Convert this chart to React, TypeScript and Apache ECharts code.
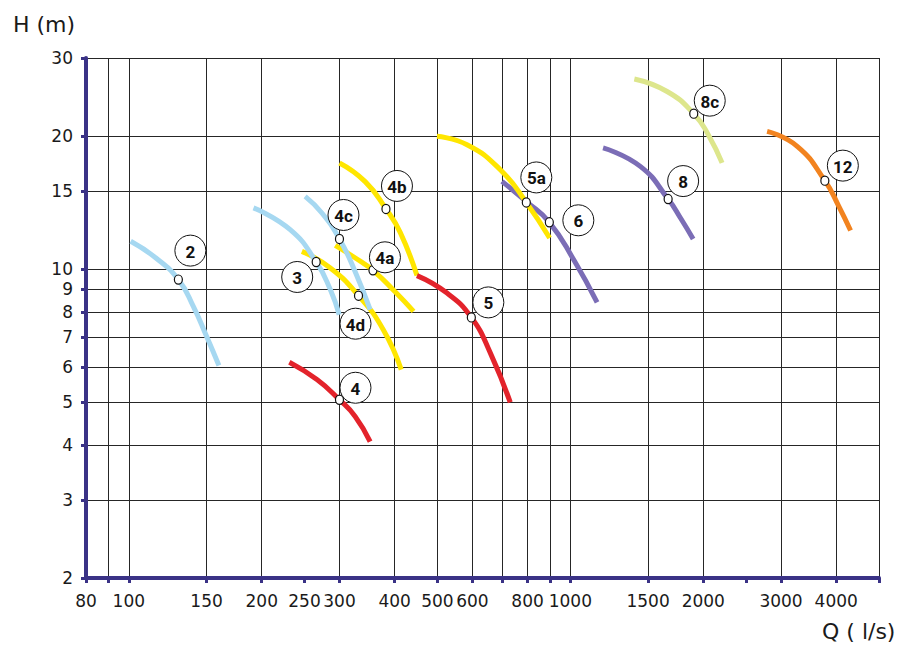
import React, { useEffect, useRef } from 'react';
import * as echarts from 'echarts';

// ---- axis values ----
const xTickValues = [80, 90, 100, 150, 200, 250, 300, 400, 500, 600, 700, 800, 900, 1000, 1500, 2000, 2500, 3000, 4000, 5000];
const xLabelValues = [80, 100, 150, 200, 250, 300, 400, 500, 600, 800, 1000, 1500, 2000, 3000, 4000];
const xGridValues = [90, 100, 150, 200, 300, 400, 500, 600, 700, 800, 900, 1000, 1500, 2000, 3000, 4000, 5000];
const yTickValues = [2, 3, 4, 5, 6, 7, 8, 9, 10, 15, 20, 30];

// ---- pump curves [Q (l/s), H (m)] ----
const curve2 = [[101, 11.55], [115, 10.6], [129.5, 9.46], [140, 8.23], [150, 7.04], [160, 6.05]];
const curve3 = [[191.6, 13.74], [232, 12.27], [265.7, 10.37], [286, 8.98], [299.6, 7.88]];
const curve4c = [[250.8, 14.59], [273.7, 13.38], [300, 11.69], [325.6, 9.86], [352, 8.09]];
const curve4d = [[246.6, 10.96], [286, 10.05], [331.3, 8.7], [377, 7.29], [414, 5.92]];
const curve4a = [[293.4, 11.31], [324, 10.63], [357.2, 9.93], [401, 8.88], [441.5, 8.02]];
const curve4b = [[300, 17.37], [343, 15.76], [382.3, 13.67], [412, 12.08], [449.4, 9.66]];
const curve4 = [[231, 6.15], [266.7, 5.62], [300, 5.06], [325.6, 4.64], [352, 4.07]];
const curve5 = [[449.4, 9.66], [525.6, 8.82], [596.7, 7.77], [658.7, 6.46], [731, 4.99]];
const curve5a = [[498.8, 19.95], [583.4, 19.1], [694, 16.77], [794.8, 14.14], [897.6, 11.75]];
const curve6 = [[700, 15.78], [795, 14.2], [896.2, 12.75], [1017, 10.5], [1149.5, 8.4]];
const curve8 = [[1186, 18.78], [1440, 17.06], [1665, 14.39], [1776, 13.04], [1897, 11.69]];
const curve8c = [[1396, 26.9], [1656, 25.2], [1903, 22.45], [2054, 20.1], [2206, 17.37]];
const curve12 = [[2790, 20.48], [3264, 18.94], [3770, 15.84], [4055, 13.86], [4311, 12.22]];

// ---- duty points ----
const dutyNames = ['2', '3', '4c', '4d', '4a', '4b', '4', '5', '5a', '6', '8', '8c', '12'];
const dutyQ = [129.5, 265.7, 300, 331.3, 357.2, 382.3, 300, 596.7, 794.8, 896.2, 1665, 1903, 3770];
const dutyH = [9.46, 10.37, 11.69, 8.7, 9.93, 13.67, 5.06, 7.77, 14.14, 12.75, 14.39, 22.45, 15.84];

// ---- styles / layout ----
const C = {
  blue: '#a6d8f1',
  yellow: '#ffe600',
  red: '#e3232b',
  purple: '#7b6db6',
  green: '#dde68c',
  orange: '#f2831f',
  navy: '#3a3286',
  grid: '#262626',
  text: '#1a1a1a',
};

const bubbleOffsets: Record<string, [number, number]> = {
  '2': [12, -29],
  '3': [-19, 15],
  '4c': [4, -24],
  '4d': [-3, 28],
  '4a': [12, -13],
  '4b': [11, -23],
  '4': [16, -12],
  '5': [17, -15],
  '5a': [10, -25],
  '6': [29, -2],
  '8': [15, -18],
  '8c': [16, -13],
  '12': [18, -15],
};

const curves: { name: string; data: number[][]; color: string }[] = [
  { name: '4d', data: curve4d, color: C.yellow },
  { name: '4a', data: curve4a, color: C.yellow },
  { name: '4b', data: curve4b, color: C.yellow },
  { name: '2', data: curve2, color: C.blue },
  { name: '3', data: curve3, color: C.blue },
  { name: '4c', data: curve4c, color: C.blue },
  { name: '4', data: curve4, color: C.red },
  { name: '5', data: curve5, color: C.red },
  { name: '6', data: curve6, color: C.purple },
  { name: '8', data: curve8, color: C.purple },
  { name: '5a', data: curve5a, color: C.yellow },
  { name: '8c', data: curve8c, color: C.green },
  { name: '12', data: curve12, color: C.orange },
];

const FONT = '"DejaVu Sans", sans-serif';

export default function App() {
  const ref = useRef<HTMLDivElement>(null);

  useEffect(() => {
    if (!ref.current) return;
    const chart = echarts.init(ref.current, undefined, { renderer: 'svg' });

    const lineSeries = curves.map((c) => ({
      type: 'line',
      name: c.name,
      xAxisIndex: 1,
      yAxisIndex: 0,
      data: c.data,
      smooth: 0.5,
      showSymbol: false,
      symbol: 'none',
      lineStyle: { color: c.color, width: 5, cap: 'butt' },
      itemStyle: { color: c.color },
      z: 3,
      silent: true,
    }));

    const dutySeries = {
      type: 'custom',
      name: 'duty',
      coordinateSystem: 'cartesian2d',
      xAxisIndex: 1,
      yAxisIndex: 0,
      z: 10,
      silent: true,
      data: dutyQ.map((q, i) => [q, dutyH[i]]),
      encode: { x: 0, y: 1 },
      renderItem: (params: any, api: any) => {
        const pt = api.coord([api.value(0), api.value(1)]);
        const name = dutyNames[params.dataIndex];
        const off = bubbleOffsets[name];
        const bx = pt[0] + off[0];
        const by = pt[1] + off[1];
        return {
          type: 'group',
          children: [
            {
              type: 'ellipse',
              shape: { cx: pt[0], cy: pt[1], rx: 4, ry: 4.6 },
              style: { fill: '#ffffff', stroke: '#111', lineWidth: 1.2 },
            },
            {
              type: 'circle',
              shape: { cx: bx, cy: by, r: 15.5 },
              style: { fill: '#ffffff', stroke: '#111', lineWidth: 1 },
            },
            {
              type: 'text',
              x: bx,
              y: by + 1,
              style: {
                text: name,
                fill: '#111',
                font: 'bold 17px Roboto, sans-serif',
                align: 'center',
                verticalAlign: 'middle',
              },
            },
          ],
        };
      },
    };

    const plain = (v: number) => String(Math.round(v));

    chart.setOption({
      animation: false,
      backgroundColor: '#ffffff',
      grid: { left: 86, right: 31, top: 58, bottom: 68, containLabel: false },
      xAxis: [
        {
          type: 'log',
          logBase: 10,
          min: 80,
          max: 5000,
          position: 'bottom',
          axisLine: { show: false },
          axisTick: { show: false, customValues: xGridValues },
          axisLabel: { show: false },
          splitLine: { show: true, lineStyle: { color: C.grid, width: 1 } },
          z: 0,
        },
        {
          type: 'log',
          logBase: 10,
          min: 80,
          max: 5000,
          position: 'bottom',
          axisLine: { show: true, onZero: false, lineStyle: { color: C.navy, width: 4 } },
          axisTick: {
            show: true,
            customValues: xTickValues,
            length: 5,
            lineStyle: { color: C.navy, width: 3 },
          },
          axisLabel: {
            customValues: xLabelValues,
            formatter: plain,
            hideOverlap: false,
            fontFamily: FONT,
            fontSize: 17,
            color: C.text,
            margin: 14,
          },
          splitLine: { show: false },
          z: 1,
        },
      ],
      yAxis: [
        {
          type: 'log',
          logBase: 10,
          min: 2,
          max: 30,
          axisLine: { show: true, onZero: false, lineStyle: { color: C.navy, width: 4 } },
          axisTick: {
            show: true,
            customValues: yTickValues,
            length: 5,
            lineStyle: { color: C.navy, width: 3 },
          },
          axisLabel: {
            customValues: yTickValues,
            formatter: plain,
            hideOverlap: false,
            fontFamily: FONT,
            fontSize: 17,
            color: C.text,
            margin: 13,
          },
          splitLine: { show: true, lineStyle: { color: C.grid, width: 1 } },
          z: 1,
        },
      ],
      graphic: [
        {
          type: 'text',
          left: 13,
          top: 13,
          style: { text: 'H (m)', font: `22px ${FONT}`, fill: C.text },
        },
        {
          type: 'text',
          left: 822,
          top: 620,
          style: { text: 'Q ( l/s)', font: `22px ${FONT}`, fill: C.text },
        },
      ],
      series: [...lineSeries, dutySeries],
    });

    return () => {
      chart.dispose();
    };
  }, []);

  return (
    <div
      ref={ref}
      style={{ position: 'absolute', left: 0, top: 0, width: 910, height: 646, background: '#fff' }}
    />
  );
}
